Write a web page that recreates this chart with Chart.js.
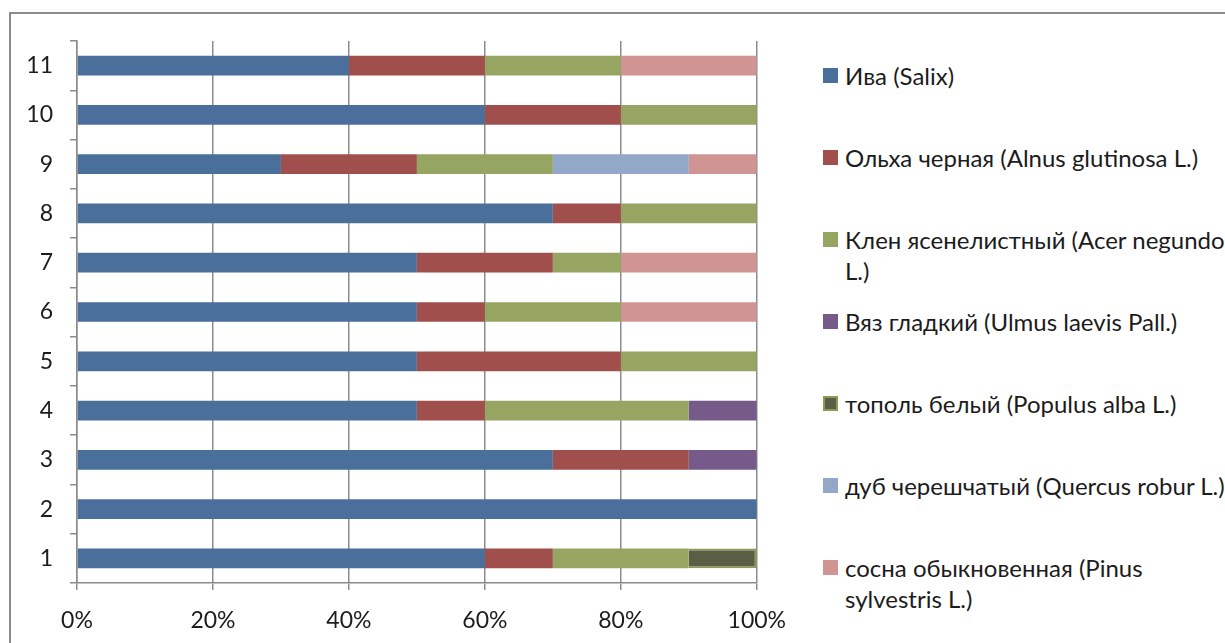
<!DOCTYPE html>
<html>
<head>
<meta charset="utf-8">
<script src="https://cdn.jsdelivr.net/npm/chart.js@4.4.1/dist/chart.umd.min.js"></script>
<style>
  html, body { margin: 0; padding: 0; background: #fff; overflow: hidden; }
  body { width: 1225px; height: 643px; position: relative; font-family: Lato, "Open Sans", sans-serif; }
  #frame { position: absolute; left: 9px; top: 12px; width: 1300px; height: 700px; border: 2px solid #8c8c8c; }
  #chart { position: absolute; left: 0; top: 0; }
  #legend { position: absolute; left: 823px; top: 0; width: 430px; }
  .legend-item { position: absolute; left: 0; width: 430px; display: flex; align-items: flex-start; }
  .color-box { width: 15px; height: 15px; margin-top: 8px; flex: none; box-sizing: border-box; }
  .legend-text { margin-left: 7px; width: 392px; font-size: 24px; line-height: 31px; color: #1c1c1c; }
</style>
</head>
<body>
<div id="frame"></div>
<canvas id="chart" width="803" height="643"></canvas>
<div id="legend"></div>
<script>
// categories (bottom to top) and each species' share, %
const categories = ['1', '2', '3', '4', '5', '6', '7', '8', '9', '10', '11'];
const iva   = [60, 100, 70, 50, 50, 50, 50, 70, 30, 60, 40];
const olkha = [10, 0, 20, 10, 30, 10, 20, 10, 20, 20, 20];
const klen  = [20, 0, 0, 30, 20, 20, 10, 20, 20, 20, 20];
const vyaz  = [0, 0, 10, 10, 0, 0, 0, 0, 0, 0, 0];
const topol = [10, 0, 0, 0, 0, 0, 0, 0, 0, 0, 0];
const dub   = [0, 0, 0, 0, 0, 0, 0, 0, 20, 0, 0];
const sosna = [0, 0, 0, 0, 0, 20, 20, 0, 10, 0, 20];

const xTicks = [0, 20, 40, 60, 80, 100];

const seriesNames = [
  'Ива (Salix)',
  'Ольха черная (Alnus glutinosa L.)',
  'Клен ясенелистный (Acer negundo L.)',
  'Вяз гладкий (Ulmus laevis Pall.)',
  'тополь белый  (Populus alba L.)',
  'дуб черешчатый (Quercus robur L.)',
  'сосна обыкновенная (Pinus sylvestris L.)'
];
const seriesData = [iva, olkha, klen, vyaz, topol, dub, sosna];
const seriesColors = ['#4a6f9b', '#a04f4d', '#97a563', '#765b8a', '#5a5e44', '#93a7c9', '#d09493'];
const seriesBorders = [null, null, null, null, '#8a9b55', null, null];

const tickFont = { family: 'Lato, "Open Sans", sans-serif', size: 23 };
const gridColor = '#8c8c8c';

const datasets = seriesNames.map((name, i) => ({
  label: name,
  data: seriesData[i],
  backgroundColor: seriesColors[i],
  borderColor: seriesBorders[i] || seriesColors[i],
  borderWidth: seriesBorders[i] ? 2 : 0,
  categoryPercentage: 1,
  barPercentage: 0.4
}));

const chart = new Chart(document.getElementById('chart').getContext('2d'), {
  type: 'bar',
  data: { labels: categories, datasets: datasets },
  options: {
    responsive: false,
    animation: false,
    indexAxis: 'y',
    layout: { padding: { top: 41, right: 20, bottom: 0, left: 0 } },
    plugins: {
      legend: { display: false },
      tooltip: { enabled: false }
    },
    scales: {
      x: {
        stacked: true,
        min: 0,
        max: 100,
        afterBuildTicks: (scale) => { scale.ticks = xTicks.map(v => ({ value: v })); },
        afterFit: (scale) => { scale.height = 60; },
        ticks: {
          callback: (v) => v + '%',
          color: '#1c1c1c',
          font: tickFont,
          padding: 17,
          maxRotation: 0
        },
        grid: { color: gridColor, lineWidth: 1.5, tickLength: 7 },
        border: { color: gridColor, width: 1.5 }
      },
      y: {
        stacked: true,
        reverse: true,
        afterFit: (scale) => { scale.width = 77; },
        ticks: { color: '#1c1c1c', font: tickFont, padding: 17 },
        grid: { drawOnChartArea: false, color: gridColor, lineWidth: 1.5, tickLength: 7 },
        border: { color: gridColor, width: 1.5 }
      }
    }
  }
});

// custom legend, evenly spaced like the original
const legend = document.getElementById('legend');
chart.data.datasets.forEach((ds, i) => {
  const item = document.createElement('div');
  item.className = 'legend-item';
  item.style.top = (60 + i * 82) + 'px';

  const box = document.createElement('span');
  box.className = 'color-box';
  box.style.backgroundColor = ds.backgroundColor;
  if (ds.borderWidth) box.style.border = '2px solid ' + ds.borderColor;

  const text = document.createElement('span');
  text.className = 'legend-text';
  text.textContent = ds.label;

  item.appendChild(box);
  item.appendChild(text);
  legend.appendChild(item);
});
</script>
</body>
</html>
